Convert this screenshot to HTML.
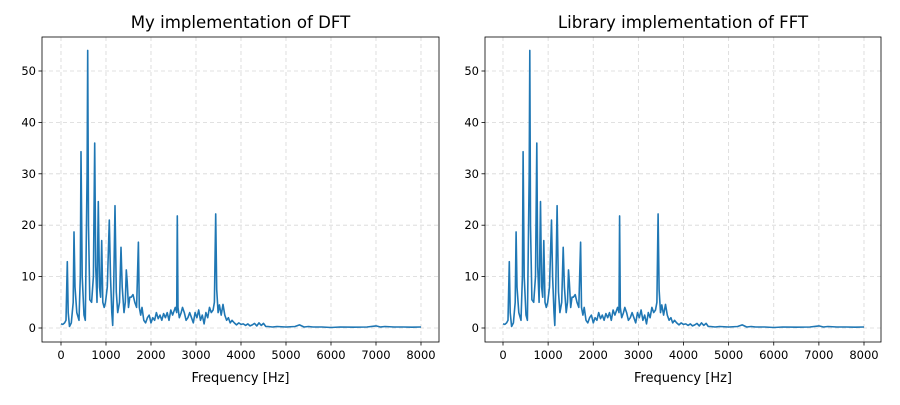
<!DOCTYPE html>
<html><head><meta charset="utf-8"><style>
body{margin:0;background:#fff;font-family:"Liberation Sans","DejaVu Sans",sans-serif;}
svg text{font-family:"DejaVu Sans","Liberation Sans",sans-serif;}
</style></head><body>
<svg id="c" width="900" height="400" xmlns="http://www.w3.org/2000/svg"></svg>
<script>
const freqs=[0,40,80,110,140,160,190,230,270,290,310,350,400,430,445,470,510,540,580,593,610,640,680,720,748,770,800,830,855,880,904,930,960,990,1030,1074,1100,1130,1148,1170,1200,1230,1260,1300,1333,1360,1400,1430,1452,1470,1500,1530,1560,1600,1640,1680,1719,1740,1770,1800,1840,1880,1920,1960,2000,2040,2080,2120,2160,2200,2240,2280,2320,2360,2400,2440,2480,2540,2570,2585,2600,2630,2670,2700,2740,2780,2820,2860,2900,2940,2980,3020,3060,3100,3140,3180,3220,3260,3300,3340,3380,3410,3437,3460,3490,3520,3560,3600,3640,3680,3720,3760,3800,3850,3900,3950,4000,4050,4100,4150,4200,4250,4300,4350,4400,4450,4500,4550,4600,4700,4800,5000,5200,5300,5400,5500,5600,5800,6000,6200,6500,6800,7000,7100,7200,7400,7600,7800,8000];
const mags=[0.8,0.7,1,1.5,12.9,3,0.3,1,5,18.7,8,3,1.5,10,34.3,10,2.5,1.5,30,54,20,5.5,5,10,36,12,5,24.6,8,6,17,5,4,5,8,21,10,3,0.5,8,23.8,7,3,5,15.7,8,3,5,11.3,9,4,6,6,6.5,5,4,16.7,4,2.5,4,1.5,1,2,2.5,1,2,1.5,3,1.8,2.5,1.5,2.8,2,3,1.5,3.5,2.5,4,3,21.8,4,2,3,4,3,1.5,2,3,2,1,3,2,3.5,1.5,2.5,0.8,3,2,4,3,3.5,5,22.2,7.5,3,4.5,2.5,4.6,2.5,1.5,2,1,1.5,1,0.6,1,0.7,0.8,0.5,0.8,0.4,0.6,0.9,0.4,1,0.5,0.9,0.3,0.3,0.2,0.3,0.2,0.3,0.6,0.2,0.3,0.2,0.2,0.1,0.2,0.15,0.2,0.4,0.2,0.3,0.2,0.2,0.15,0.2];
const xTicks=[0,1000,2000,3000,4000,5000,6000,7000,8000];
const yTicks=[0,10,20,30,40,50];
const titles=["My implementation of DFT","Library implementation of FFT"];
const NS="http://www.w3.org/2000/svg";
const svg=document.getElementById('c');
function mk(t,a,p){const e=document.createElementNS(NS,t);for(const k in a)e.setAttribute(k,a[k]);(p||svg).appendChild(e);return e;}
const panels=[{L:42,R:439,x0:61,x8:421},{L:485,R:881,x0:503,x8:864}];
const T=37,B=342,y0=328,y50=71;
panels.forEach((p,i)=>{
  const g=mk('g',{});
  
  
  const xs=v=>p.x0+(p.x8-p.x0)*v/8000;
  const ys=v=>y0+(y50-y0)*v/50;
  xTicks.forEach(t=>{const x=xs(t);
    const l=mk('line',{x1:x,x2:x,y1:T,y2:B,stroke:'#b0b0b0','stroke-width':0.8,'stroke-dasharray':'4,3','stroke-opacity':0.5},g);
    
    mk('line',{x1:x,x2:x,y1:B,y2:B+3.5,stroke:'#000','stroke-width':0.8},g);
    const tx=mk('text',{x:x,y:B+17,'font-size':11.5,'text-anchor':'middle',fill:'#000'},g);tx.textContent=t;
    });
  yTicks.forEach(t=>{const y=ys(t);
    const l=mk('line',{x1:p.L,x2:p.R,y1:y,y2:y,stroke:'#b0b0b0','stroke-width':0.8,'stroke-dasharray':'4,3','stroke-opacity':0.5},g);
    
    mk('line',{x1:p.L-3.5,x2:p.L,y1:y,y2:y,stroke:'#000','stroke-width':0.8},g);
    const tx=mk('text',{x:p.L-6,y:y+4,'font-size':11.5,'text-anchor':'end',fill:'#000'},g);tx.textContent=t;
    });
  const d=freqs.map((f,k)=>(k?'L':'M')+xs(f).toFixed(1)+','+ys(mags[k]).toFixed(1)).join('');
  const path=mk('path',{d:d,fill:'none',stroke:'#1f77b4','stroke-width':1.6,'stroke-linejoin':'round'},g);
  
  const fr=mk('rect',{x:p.L,y:T,width:p.R-p.L,height:B-T,fill:'none',stroke:'#000','stroke-width':0.8},g);
  
  const ti=mk('text',{x:(p.L+p.R)/2,y:28,'font-size':16.6,'text-anchor':'middle',fill:'#000'},g);ti.textContent=titles[i];
  
  const xl=mk('text',{x:(p.L+p.R)/2,y:382,'font-size':13,'text-anchor':'middle',fill:'#000'},g);xl.textContent='Frequency [Hz]';
  
});
</script>
</body></html>
